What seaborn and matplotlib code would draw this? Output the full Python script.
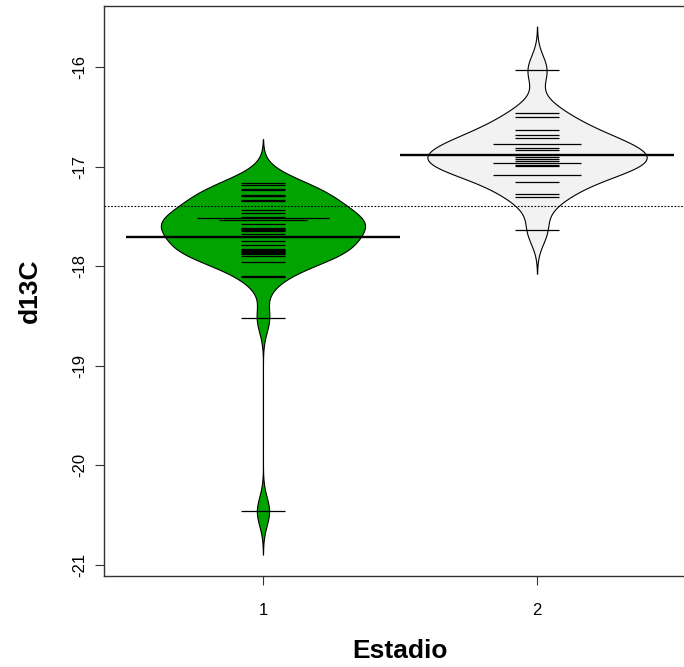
import numpy as np
import pandas as pd
import matplotlib
matplotlib.use("Agg")
import matplotlib.pyplot as plt
import seaborn as sns

# valores (beanplot de d13C por estadio)
estadio_1 = [-17.16, -17.18, -17.23, -17.24, -17.29, -17.295, -17.30, -17.34, -17.35,
             -17.44, -17.47, -17.51, -17.52, -17.52, -17.52, -17.54, -17.54, -17.58,
             -17.615, -17.625, -17.63, -17.64, -17.65, -17.68, -17.75, -17.79,
             -17.83, -17.84, -17.85, -17.855, -17.86, -17.87, -17.88, -17.90, -17.96,
             -18.10, -18.11, -18.52, -20.46]
estadio_2 = [-16.03, -16.46, -16.50, -16.63, -16.68, -16.71, -16.77, -16.77, -16.81,
             -16.83, -16.90, -16.92, -16.94, -16.96, -16.96, -16.98, -16.99,
             -17.08, -17.08, -17.15, -17.28, -17.31, -17.64]
grupos = ["1", "2"]
colores = ["#00a300", "#f2f2f2"]

df = pd.DataFrame({
    "Estadio": ["1"] * len(estadio_1) + ["2"] * len(estadio_2),
    "d13C": estadio_1 + estadio_2,
})

sns.set_theme(style="ticks")
plt.rcParams["font.family"] = ["Liberation Sans", "DejaVu Sans"]

fig = plt.figure(figsize=(6.84, 6.67), dpi=100)
ax = fig.add_axes([104 / 684, 91 / 667, 592 / 684, 570 / 667])

bw = 0.145          # mismo ancho de banda para los dos grupos
anchos = [0.745, 0.80]
for i, g in enumerate(grupos):
    sub = df[df["Estadio"] == g]
    sd = sub["d13C"].std()
    sns.violinplot(data=sub, x="Estadio", y="d13C", order=grupos, color=colores[i],
                   inner=None, cut=3, bw_method=bw / sd, gridsize=400,
                   width=anchos[i], density_norm="width", saturation=1,
                   linewidth=0.8, linecolor="black", ax=ax)

# lineas de cada dato (mas largas si se repiten)
for i, g in enumerate(grupos):
    cuentas = df.loc[df["Estadio"] == g, "d13C"].value_counts()
    for val, n in cuentas.items():
        ax.hlines(val, i - 0.08 * n, i + 0.08 * n, color="black", lw=0.9, zorder=3)
    media = df.loc[df["Estadio"] == g, "d13C"].mean()
    ax.hlines(media, i - 0.5, i + 0.5, color="black", lw=1.7, zorder=4)

ax.axhline(df["d13C"].mean(), color="black", lw=0.8, ls=(0, (1.5, 1.5)), zorder=1)

ax.set_xlim(-0.58, 1.58)
ax.set_ylim(-21.11, -15.388)
ax.set_yticks([-21, -20, -19, -18, -17, -16])
ax.set_yticklabels(["-21", "-20", "-19", "-18", "-17", "-16"], rotation=90, va="center")
ax.tick_params(axis="both", direction="out", length=6.5, width=0.8, color="#333333",
               labelsize=12, labelcolor="black")
ax.tick_params(axis="x", pad=13)
ax.tick_params(axis="y", pad=5.5)
for s in ax.spines.values():
    s.set_visible(True)
    s.set_color("#333333")
    s.set_linewidth(1)
ax.spines["right"].set_visible(False)

ax.set_xlabel("Estadio", fontsize=19, fontweight="bold", color="black")
ax.set_ylabel("d13C", fontsize=19, fontweight="bold", color="black")
ax.xaxis.label.set_va("center")
ax.yaxis.label.set_va("center")
ax.xaxis.set_label_coords(0.5, (576 - 651) / 570)
ax.yaxis.set_label_coords((30 - 104) / 592, 0.5)

fig.savefig("out.png", dpi=100)
